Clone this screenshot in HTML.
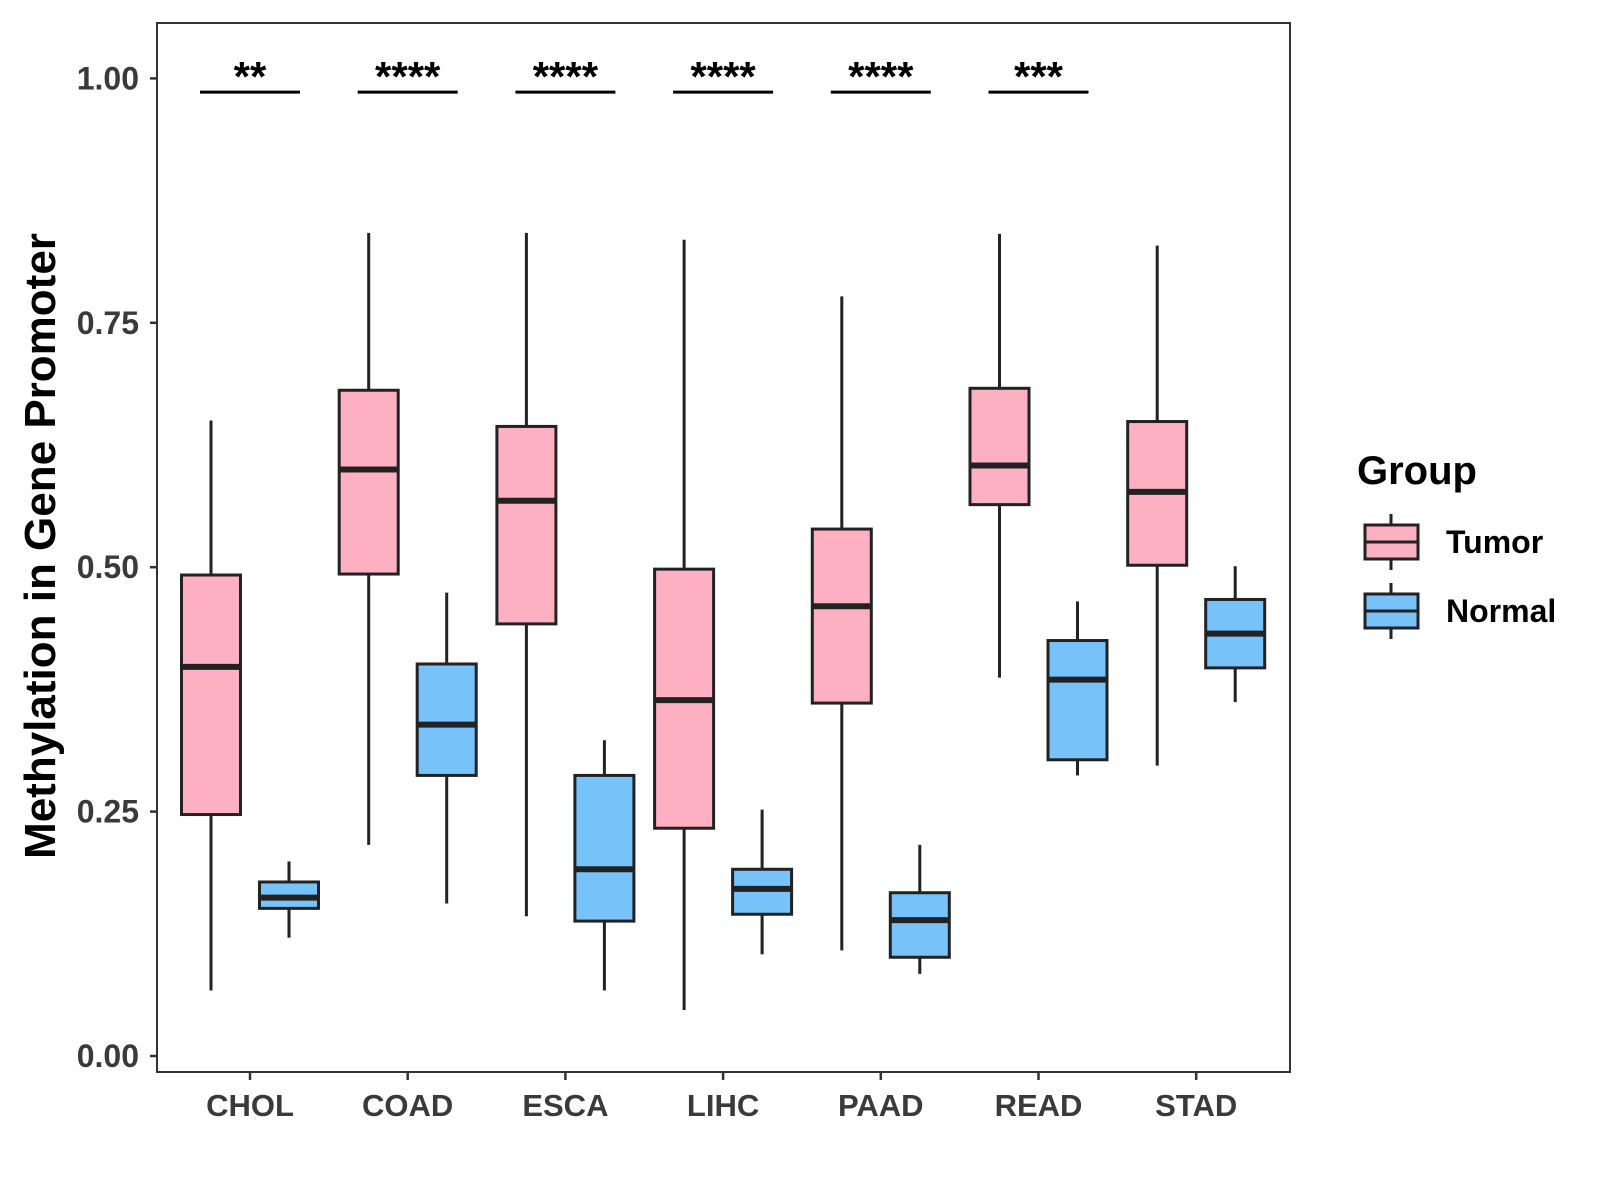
<!DOCTYPE html>
<html><head><meta charset="utf-8"><style>body{margin:0;background:#fff}svg{display:block;font-family:"Liberation Sans",sans-serif}</style></head>
<body>
<svg id="c" width="1600" height="1200" xmlns="http://www.w3.org/2000/svg"></svg>
<script>
const categories=["CHOL","COAD","ESCA","LIHC","PAAD","READ","STAD"];
const tumorMin=[0.067,0.216,0.143,0.047,0.108,0.387,0.297];
const tumorQ1=[0.247,0.493,0.442,0.233,0.361,0.564,0.502];
const tumorMed=[0.398,0.600,0.568,0.364,0.460,0.604,0.577];
const tumorQ3=[0.492,0.681,0.644,0.498,0.539,0.683,0.649];
const tumorMax=[0.650,0.842,0.842,0.835,0.777,0.841,0.829];
const normalMin=[0.121,0.156,0.067,0.104,0.084,0.287,0.362];
const normalQ1=[0.151,0.287,0.138,0.145,0.101,0.303,0.397];
const normalMed=[0.162,0.339,0.191,0.171,0.139,0.385,0.432];
const normalQ3=[0.178,0.401,0.287,0.191,0.167,0.425,0.467];
const normalMax=[0.199,0.474,0.323,0.252,0.216,0.465,0.501];
const signif=["**","****","****","****","****","***"];
const yTicks=[0,0.25,0.5,0.75,1.0];
const yTickLabels=["0.00","0.25","0.50","0.75","1.00"];

const svg=document.getElementById('c');const NS="http://www.w3.org/2000/svg";
function mk(t,a,p){const e=document.createElementNS(NS,t);for(const k in a)e.setAttribute(k,a[k]);(p||svg).appendChild(e);return e;}
const L=157,R=1290,T=23,B=1072;
const y=v=>1056-v*977.6;
const x=i=>250+i*157.7;
const bw=59,off=39;
let e;
e=mk('rect',{x:L,y:T,width:R-L,height:B-T,fill:'#fff',stroke:'#333','stroke-width':2});


yTicks.forEach((v,i)=>{
 e=mk('line',{x1:L-7,x2:L,y1:y(v),y2:y(v),stroke:'#333','stroke-width':2.5});
 
 
 e=mk('text',{x:L-18,y:y(v)+11,'text-anchor':'end','font-size':32,'font-weight':'bold',fill:'#3a3a3a'});e.textContent=yTickLabels[i];
 
 
});
function box(cx,mn,q1,md,q3,mx,fill,name){
 const g=mk('g',{});
 
 
 mk('line',{x1:cx,x2:cx,y1:y(mx),y2:y(q3),stroke:'#222','stroke-width':3},g);
 mk('line',{x1:cx,x2:cx,y1:y(q1),y2:y(mn),stroke:'#222','stroke-width':3},g);
 mk('rect',{x:cx-bw/2,y:y(q3),width:bw,height:y(q1)-y(q3),fill:fill,stroke:'#222','stroke-width':3},g);
 mk('line',{x1:cx-bw/2,x2:cx+bw/2,y1:y(md),y2:y(md),stroke:'#222','stroke-width':6},g);
}
categories.forEach((c,i)=>{
 box(x(i)-off,tumorMin[i],tumorQ1[i],tumorMed[i],tumorQ3[i],tumorMax[i],'#FDB0C1','tumor-box-'+c.toLowerCase());
 box(x(i)+off,normalMin[i],normalQ1[i],normalMed[i],normalQ3[i],normalMax[i],'#77C2F8','normal-box-'+c.toLowerCase());
 e=mk('line',{x1:x(i),x2:x(i),y1:B,y2:B+8,stroke:'#333','stroke-width':2.5});
 
 
 e=mk('text',{x:x(i),y:B+44,'text-anchor':'middle','font-size':31,'font-weight':'bold',fill:'#3a3a3a'});e.textContent=c;
 
 
});
signif.forEach((s,i)=>{
 e=mk('line',{x1:x(i)-50,x2:x(i)+50,y1:y(0.986),y2:y(0.986),stroke:'#000','stroke-width':3});
 
 
 e=mk('text',{x:x(i),y:y(0.986)-1,'text-anchor':'middle','font-size':42,'font-weight':'bold',fill:'#000'});e.textContent=s;
 
 
});
e=mk('text',{x:0,y:0,transform:'translate(55,546) rotate(-90)','text-anchor':'middle','font-size':44,'font-weight':'bold',fill:'#000'});e.textContent='Methylation in Gene Promoter';


e=mk('text',{x:1357,y:484,'font-size':40,'font-weight':'bold',fill:'#000'});e.textContent='Group';


[['Tumor','#FDB0C1',542],['Normal','#77C2F8',611]].forEach(([n,f,cy])=>{
 const g=mk('g',{});
 
 
 mk('line',{x1:1391,x2:1391,y1:cy-28,y2:cy+28,stroke:'#222','stroke-width':3},g);
 mk('rect',{x:1365,y:cy-17,width:53,height:34,fill:f,stroke:'#222','stroke-width':3},g);
 mk('line',{x1:1365,x2:1418,y1:cy,y2:cy,stroke:'#222','stroke-width':3},g);
 const t=mk('text',{x:1446,y:cy+11,'font-size':32,'font-weight':'bold',fill:'#000'},g);t.textContent=n;
});
</script>
</body></html>
